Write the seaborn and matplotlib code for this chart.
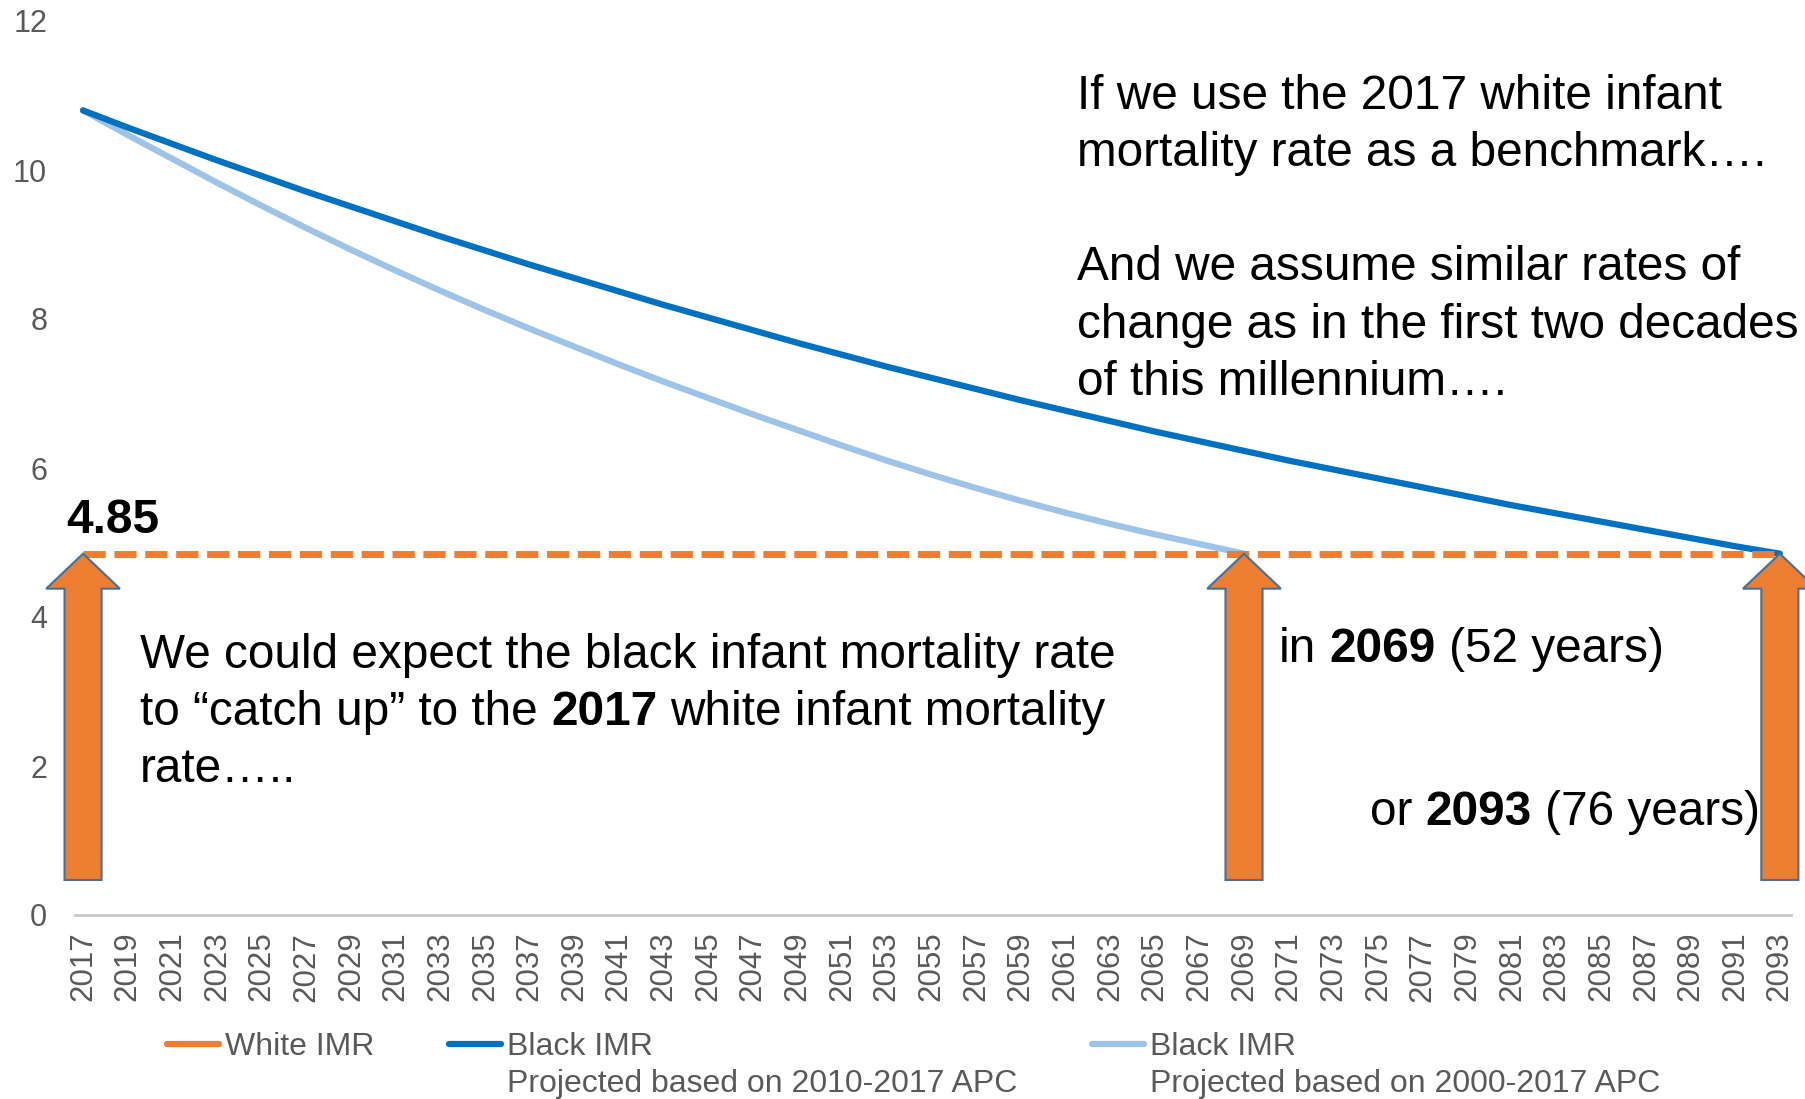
import pandas as pd
import matplotlib
matplotlib.use("Agg")
import matplotlib.pyplot as plt
import seaborn as sns
from matplotlib.lines import Line2D
from matplotlib.patches import FancyArrow

# Dados (IMR projetada)
years_black = [2017, 2019, 2021, 2023, 2025, 2027, 2029, 2031, 2033, 2035, 2037, 2039, 2041,
               2043, 2045, 2047, 2049, 2051, 2053, 2055, 2057, 2059, 2061, 2063, 2065, 2067,
               2069, 2071, 2073, 2075, 2077, 2079, 2081, 2083, 2085, 2087, 2089, 2091, 2093]
black_imr_2010 = [10.80, 10.57, 10.35, 10.13, 9.92, 9.71, 9.51, 9.31, 9.11, 8.92, 8.73, 8.55, 8.37,
                  8.19, 8.02, 7.85, 7.68, 7.52, 7.36, 7.21, 7.06, 6.91, 6.77, 6.63, 6.49, 6.36,
                  6.23, 6.10, 5.98, 5.86, 5.74, 5.62, 5.50, 5.39, 5.28, 5.17, 5.06, 4.95, 4.85]
years_black_2000 = years_black[:27]
black_imr_2000 = [10.80, 10.47, 10.15, 9.83, 9.52, 9.22, 8.93, 8.65, 8.38, 8.12, 7.87, 7.63, 7.39,
                  7.16, 6.94, 6.72, 6.51, 6.30, 6.10, 5.91, 5.73, 5.56, 5.40, 5.25, 5.11, 4.98, 4.85]
white_years = [2017, 2093]
white_imr = [4.85, 4.85]
arrow_years = [2017, 2069, 2093]
tick_years = list(range(2017, 2094, 2))
y_ticks = [0, 2, 4, 6, 8, 10, 12]

ORANGE = '#ED7D31'
DARK = '#0070C0'
LIGHT = '#9DC3E6'
GRAY = '#595959'
W, H = 1806, 1099

sns.set_theme(style='white')
plt.rcParams['font.family'] = ['Liberation Sans', 'DejaVu Sans']

fig = plt.figure(figsize=(W / 100, H / 100), dpi=100)
ax = fig.add_axes([75 / W, 1 - 915 / H, (1791 - 75) / W, (915 - 21) / H])

df_2010 = pd.DataFrame({'ano': years_black, 'imr': black_imr_2010})
df_2000 = pd.DataFrame({'ano': years_black_2000, 'imr': black_imr_2000})
df_white = pd.DataFrame({'ano': white_years, 'imr': white_imr})

sns.lineplot(data=df_2000, x='ano', y='imr', color=LIGHT, lw=4.5, ax=ax, solid_capstyle='round', zorder=3)
sns.lineplot(data=df_2010, x='ano', y='imr', color=DARK, lw=4.5, ax=ax, solid_capstyle='round', zorder=3)
sns.lineplot(data=df_white, x='ano', y='imr', color=ORANGE, lw=5, ax=ax, zorder=4)
ax.lines[-1].set_dashes([3.2, 1.25])

# Setas
for yr in arrow_years:
    ax.add_patch(FancyArrow(yr, 0.47, 0, white_imr[0] - 0.47, width=1.66, head_width=3.3,
                            head_length=0.47, length_includes_head=True, fc=ORANGE,
                            ec='#41719C', lw=1.5, clip_on=False, zorder=6))

ax.set_xlim(2016.64, 2093.5)
ax.set_ylim(0, 12)
ax.set_xticks(tick_years)
ax.set_xticklabels([str(y) for y in tick_years], rotation=90, va='top', ha='center')
ax.set_yticks(y_ticks)
ax.set_yticklabels([str(v) for v in y_ticks])
ax.tick_params(axis='x', length=0, pad=12, labelsize=22.5, labelcolor=GRAY)
ax.tick_params(axis='y', length=0, pad=20, labelsize=22, labelcolor=GRAY)
ax.set_xlabel('')
ax.set_ylabel('')
for s in ['left', 'right', 'top']:
    ax.spines[s].set_visible(False)
ax.spines['bottom'].set_color('#C8C8C8')
ax.spines['bottom'].set_linewidth(2)
ax.grid(False)

FS = 34.4


def rich_line(px, py, parts):
    # parts: lista de (texto, peso); o espaco entre partes vai como offset
    prev = fig.text(px / W, 1 - py / H, parts[0][0], fontsize=FS, fontweight=parts[0][1],
                    color='black', va='baseline', ha='left')
    for txt, wgt in parts[1:]:
        prev = ax.annotate(txt, xy=(1, 0), xycoords=prev, xytext=(0.278 * FS, 0),
                           textcoords='offset points', fontsize=FS, fontweight=wgt,
                           color='black', va='bottom', ha='left', annotation_clip=False)
    return prev


N = 'normal'
B = 'bold'
rich_line(1077, 109, [('If we use the 2017 white infant', N)])
rich_line(1077, 166, [('mortality rate as a benchmark….', N)])
rich_line(1077, 280, [('And we assume similar rates of', N)])
rich_line(1077, 338, [('change as in the first two decades', N)])
rich_line(1077, 395, [('of this millennium….', N)])

rich_line(66, 533, [('4.85', B)])

rich_line(140, 668, [('We could expect the black infant mortality rate', N)])
rich_line(140, 725, [('to “catch up” to the', N), ('2017', B), ('white infant mortality', N)])
rich_line(140, 782, [('rate…..', N)])

rich_line(1279, 662, [('in', N), ('2069', B), ('(52 years)', N)])
rich_line(1370, 825, [('or', N), ('2093', B), ('(76 years)', N)])

# Legenda
LFS = 23
legend_items = [(167, ORANGE, 'White IMR'), (449, DARK, 'Black IMR'), (1092, LIGHT, 'Black IMR')]
legs = []
for hx, col, lab in legend_items:
    leg = fig.legend(handles=[Line2D([], [], color=col, lw=4.5, solid_capstyle='round')],
                     labels=[lab], loc='center left', bbox_to_anchor=(hx / W, 1 - 1047 / H),
                     frameon=False, borderpad=0, borderaxespad=0, handlelength=1.63,
                     handletextpad=0.2, fontsize=LFS, labelcolor=GRAY)
    legs.append(leg)

fig.canvas.draw()
for leg, sub in [(legs[1], 'Projected based on 2010-2017 APC'), (legs[2], 'Projected based on 2000-2017 APC')]:
    bb = leg.get_texts()[0].get_window_extent()
    fig.text(bb.x0 / fig.bbox.width, 1 - 1084 / H, sub, fontsize=LFS, color=GRAY, va='center', ha='left')

fig.savefig('out.png', dpi=100)
